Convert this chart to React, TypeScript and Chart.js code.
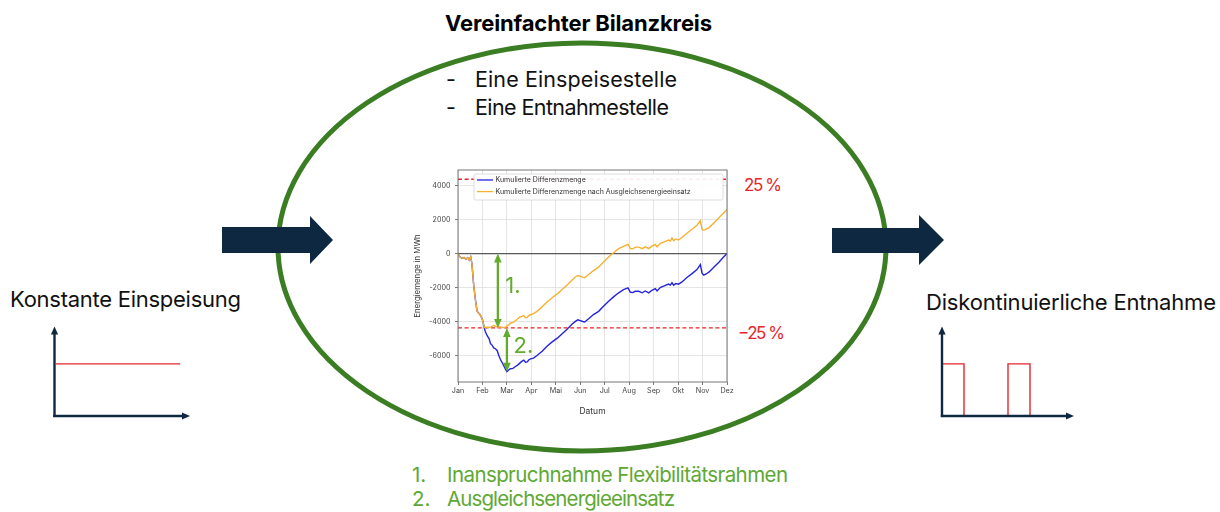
import React, { useEffect, useRef } from 'react';
import { Chart, registerables } from 'chart.js';
Chart.register(...registerables);

// ---------- data ----------
const MONTHS = ['Jan', 'Feb', 'Mar', 'Apr', 'Mai', 'Jun', 'Jul', 'Aug', 'Sep', 'Okt', 'Nov', 'Dez'];
const Y_TICKS = [-6000, -4000, -2000, 0, 2000, 4000];
const Y_MIN = -7560;
const Y_MAX = 4920;
const LIMIT = 4375; // ±25 %
const SERIES_NAMES = ['Kumulierte Differenzmenge', 'Kumulierte Differenzmenge nach Ausgleichsenergieeinsatz'];

// x in months since 1 Jan (0 = Jan, 11 = Dez)
const COMMON_X = [0, 0.08, 0.17, 0.25, 0.32, 0.4, 0.46, 0.52, 0.57, 0.64, 0.71, 0.78, 0.83, 0.88, 0.94, 1.0, 1.05];
const COMMON_Y = [-30, -200, -280, -230, -330, -250, -380, -200, -600, -1820, -2700, -3390, -3480, -3550, -3690, -3900, -4200];

const BLUE_X = [...COMMON_X,
  1.08, 1.12, 1.2, 1.27, 1.33, 1.4, 1.46, 1.53, 1.6, 1.67, 1.74, 1.8, 1.87, 1.94, 2.0,
  2.07, 2.14, 2.25, 2.35, 2.45, 2.55, 2.62, 2.69, 2.76, 2.83, 2.9, 2.97, 3.09, 3.23, 3.44,
  3.64, 3.85, 4.06, 4.26, 4.46, 4.67, 4.8, 4.9, 5.0, 5.1, 5.18, 5.34, 5.54, 5.75, 5.95,
  6.16, 6.36, 6.57, 6.77, 6.95, 7.05, 7.15, 7.25, 7.39, 7.53, 7.66, 7.8, 7.93, 8.07, 8.14,
  8.27, 8.41, 8.61, 8.68, 8.75, 8.82, 8.91, 9.02, 9.16, 9.36, 9.57, 9.77, 9.91, 9.98, 10.05,
  10.15, 10.27, 10.48, 10.68, 10.84, 11.0];
const BLUE_Y = [...COMMON_Y,
  -4420, -4600, -4850, -5000, -5300, -5400, -5550, -5600, -5700, -6000, -6250, -6400, -6600, -6800, -6950,
  -6850, -6780, -6760, -6650, -6550, -6420, -6330, -6270, -6400, -6380, -6250, -6200, -6150, -6000, -5750,
  -5450, -5200, -4980, -4720, -4450, -4150, -3990, -3900, -3950, -4000, -4030, -3840, -3590, -3400, -3100,
  -2800, -2550, -2310, -2120, -2020, -2280, -2300, -2220, -2220, -2310, -2200, -2310, -2160, -2060, -2200,
  -2000, -1920, -1800, -1860, -1720, -1860, -1760, -1800, -1670, -1410, -1180, -940, -650, -1150, -1270,
  -1200, -1080, -780, -490, -235, 0];

const ORANGE_X = [...COMMON_X,
  1.08, 1.15, 1.25, 1.35, 1.46, 1.55, 1.66, 1.76, 1.86, 1.95, 2.0, 2.07, 2.14, 2.27, 2.41,
  2.55, 2.62, 2.69, 2.76, 2.83, 2.9, 2.97, 3.09, 3.23, 3.44, 3.64, 3.85, 4.06, 4.26, 4.46,
  4.67, 4.8, 4.9, 5.0, 5.1, 5.18, 5.34, 5.54, 5.75, 5.95, 6.16, 6.36, 6.57, 6.77, 6.95,
  7.05, 7.15, 7.25, 7.39, 7.53, 7.66, 7.8, 7.93, 8.07, 8.14, 8.27, 8.41, 8.61, 8.68, 8.75,
  8.82, 8.91, 9.02, 9.16, 9.36, 9.57, 9.77, 9.91, 9.98, 10.05, 10.15, 10.27, 10.48, 10.68, 10.84, 11.0];
const ORANGE_Y = [...COMMON_Y,
  -4350, -4330, -4350, -4320, -4230, -4290, -4310, -4330, -4350, -4330, -4270, -4200, -4100, -4030, -3880,
  -3720, -3700, -3650, -3780, -3760, -3640, -3600, -3530, -3400, -3130, -2850, -2600, -2370, -2120, -1850,
  -1550, -1380, -1290, -1340, -1390, -1420, -1230, -1000, -800, -500, -200, 50, 290, 430, 560,
  300, 280, 380, 380, 290, 400, 290, 440, 540, 400, 600, 680, 800, 740, 920,
  760, 860, 800, 950, 1200, 1430, 1660, 1930, 1420, 1370, 1440, 1530, 1830, 2120, 2360, 2600];

// annotations (arrow x-position in months, label anchor)
const ANNOT_ARROW_X = [1.63, 2.0];
const ANNOT_LABELS = ['1.', '2.'];
const ANNOT_LABEL_X = [1.93, 2.27];
const ANNOT_LABEL_Y = [-2350, -5880];

// mini charts
const CONST_X = [0, 9];
const CONST_Y = [1, 1];
const PULSE_X = [0, 0, 1, 1, 3, 3, 4, 4];
const PULSE_Y = [0, 1, 1, 0, 0, 1, 1, 0];

// ---------- styles ----------
const FONT = 'Inter, "Open Sans", sans-serif';
const BLUE = '#2424e0';
const ORANGE = '#f6b133';
const RED = '#e5262a';
const GREEN_ARROW = '#62ab2b';
const NAVY = '#0e2841';

function MainChart() {
  const ref = useRef<HTMLCanvasElement>(null);
  useEffect(() => {
    const pts = (xs: number[], ys: number[]) => xs.map((x, i) => ({ x, y: ys[i] }));
    const xMax = MONTHS.length - 1;

    const framePlugin = {
      id: 'frame',
      afterDatasetsDraw(chart: any) {
        const { ctx, chartArea: a } = chart;
        ctx.save();
        ctx.strokeStyle = '#777';
        ctx.lineWidth = 1;
        ctx.strokeRect(a.left, a.top, a.right - a.left, a.bottom - a.top);
        ctx.restore();
      },
    };

    const annotPlugin = {
      id: 'annot',
      afterDatasetsDraw(chart: any) {
        const { ctx } = chart;
        const xs = chart.scales.x;
        const ys = chart.scales.y;
        const blueMin = Math.min(...BLUE_Y);
        const spans = [[0, -LIMIT], [-LIMIT, blueMin]];
        ctx.save();
        ctx.strokeStyle = GREEN_ARROW;
        ctx.fillStyle = GREEN_ARROW;
        ctx.lineWidth = 2.3;
        spans.forEach((s, i) => {
          const x = xs.getPixelForValue(ANNOT_ARROW_X[i]);
          const y0 = ys.getPixelForValue(s[0]);
          const y1 = ys.getPixelForValue(s[1]);
          const hl = 9, hw = 3.8;
          ctx.beginPath();
          ctx.moveTo(x, y0 + hl - 1);
          ctx.lineTo(x, y1 - hl + 1);
          ctx.stroke();
          ctx.beginPath();
          ctx.moveTo(x, y0); ctx.lineTo(x - hw, y0 + hl); ctx.lineTo(x + hw, y0 + hl); ctx.closePath(); ctx.fill();
          ctx.beginPath();
          ctx.moveTo(x, y1); ctx.lineTo(x - hw, y1 - hl); ctx.lineTo(x + hw, y1 - hl); ctx.closePath(); ctx.fill();
          ctx.font = `22px ${FONT}`;
          ctx.textAlign = 'left';
          ctx.textBaseline = 'alphabetic';
          ctx.fillText(ANNOT_LABELS[i], xs.getPixelForValue(ANNOT_LABEL_X[i]), ys.getPixelForValue(ANNOT_LABEL_Y[i]));
        });
        ctx.restore();
      },
    };

    const legendPlugin = {
      id: 'customLegend',
      afterDraw(chart: any) {
        const { ctx, chartArea: a } = chart;
        const bx = a.left + 16, by = a.top + 4, bw = 249, bh = 26;
        ctx.save();
        ctx.fillStyle = 'rgba(255,255,255,0.92)';
        ctx.strokeStyle = '#d4d4d4';
        ctx.lineWidth = 0.8;
        ctx.beginPath();
        (ctx as any).roundRect(bx, by, bw, bh, 2);
        ctx.fill();
        ctx.stroke();
        const colors = [BLUE, ORANGE];
        ctx.font = `7px ${FONT}`;
        ctx.textBaseline = 'middle';
        ctx.textAlign = 'left';
        SERIES_NAMES.forEach((name, i) => {
          const y = by + 6 + i * 11.6;
          ctx.strokeStyle = colors[i];
          ctx.lineWidth = 1.3;
          ctx.beginPath();
          ctx.moveTo(bx + 3, y);
          ctx.lineTo(bx + 19, y);
          ctx.stroke();
          ctx.fillStyle = '#333';
          ctx.fillText(name, bx + 21.5, y);
        });
        ctx.restore();
      },
    };

    const chart = new Chart(ref.current!, {
      type: 'line',
      data: {
        datasets: [
          { label: SERIES_NAMES[1], data: pts(ORANGE_X, ORANGE_Y), borderColor: ORANGE, borderWidth: 1.4, pointRadius: 0, order: 0 },
          { label: SERIES_NAMES[0], data: pts(BLUE_X, BLUE_Y), borderColor: BLUE, borderWidth: 1.4, pointRadius: 0, order: 1 },
          { label: '+25 %', data: pts([0, xMax], [LIMIT, LIMIT]), borderColor: RED, borderWidth: 1.3, borderDash: [4, 2.6], pointRadius: 0, order: 3 },
          { label: '-25 %', data: pts([0, xMax], [-LIMIT, -LIMIT]), borderColor: RED, borderWidth: 1.3, borderDash: [4, 2.6], pointRadius: 0, order: 3 },
          { label: '0', data: pts([0, xMax], [0, 0]), borderColor: '#5a5a5a', borderWidth: 1.3, pointRadius: 0, order: 4 },
        ] as any,
      },
      options: {
        animation: false,
        responsive: false,
        devicePixelRatio: 1,
        layout: { padding: { left: 0, top: 10, right: 13, bottom: 0 } },
        plugins: { legend: { display: false }, tooltip: { enabled: false } },
        scales: {
          x: {
            type: 'linear',
            min: 0,
            max: xMax,
            afterFit: (s: any) => { s.height = 43; },
            ticks: {
              stepSize: 1,
              autoSkip: false,
              maxRotation: 0,
              padding: 2,
              color: '#444',
              font: { family: FONT, size: 7.2 },
              callback: (v: any) => MONTHS[Math.round(v)] ?? '',
            },
            grid: { color: '#dedede', lineWidth: 0.8, tickLength: 3, tickColor: '#555' },
            border: { display: false },
            title: { display: true, text: 'Datum', color: '#333', font: { family: FONT, size: 8.5 }, padding: { top: 2, bottom: 8 } },
          },
          y: {
            type: 'linear',
            min: Y_MIN,
            max: Y_MAX,
            afterFit: (s: any) => { s.width = 58; },
            afterBuildTicks: (s: any) => { s.ticks = Y_TICKS.map((v) => ({ value: v })); },
            ticks: { padding: 4.5, color: '#444', font: { family: FONT, size: 7.2 }, callback: (v: any) => String(v) },
            grid: { color: '#dedede', lineWidth: 0.8, tickLength: 3, tickColor: '#555' },
            border: { display: false },
            title: { display: true, text: 'Energiemenge in MWh', color: '#333', font: { family: FONT, size: 7.8 }, padding: { top: 13, bottom: 0 } },
          },
        },
      } as any,
      plugins: [framePlugin, annotPlugin, legendPlugin],
    });
    return () => chart.destroy();
  }, []);
  return <canvas ref={ref} width={340} height={265} style={{ position: 'absolute', left: 400, top: 160 }} />;
}

function MiniChart(props: { xs: number[]; ys: number[]; xMax: number; left: number; top: number; width: number; height: number }) {
  const ref = useRef<HTMLCanvasElement>(null);
  useEffect(() => {
    const chart = new Chart(ref.current!, {
      type: 'line',
      data: {
        datasets: [{
          data: props.xs.map((x, i) => ({ x, y: props.ys[i] })),
          borderColor: RED, borderWidth: 1.4, pointRadius: 0, clip: false as any,
        }],
      },
      options: {
        animation: false,
        responsive: false,
        devicePixelRatio: 1,
        layout: { padding: 0 },
        plugins: { legend: { display: false }, tooltip: { enabled: false } },
        scales: {
          x: { type: 'linear', min: 0, max: props.xMax, display: false },
          y: { type: 'linear', min: 0, max: 1.65, display: false },
        },
      } as any,
    });
    return () => chart.destroy();
  }, []);
  return <canvas ref={ref} width={props.width} height={props.height} style={{ position: 'absolute', left: props.left, top: props.top }} />;
}

function AxisArrows({ x0, y0, yTip, xTip }: { x0: number; y0: number; yTip: number; xTip: number }) {
  return (
    <g>
      <line x1={x0} y1={y0 + 1} x2={x0} y2={yTip + 6} stroke={NAVY} strokeWidth={2.4} />
      <polygon points={`${x0},${yTip} ${x0 - 3.6},${yTip + 8} ${x0 + 3.6},${yTip + 8}`} fill={NAVY} />
      <line x1={x0 - 1.2} y1={y0} x2={xTip - 6} y2={y0} stroke={NAVY} strokeWidth={2.4} />
      <polygon points={`${xTip},${y0} ${xTip - 8},${y0 - 3.6} ${xTip - 8},${y0 + 3.6}`} fill={NAVY} />
    </g>
  );
}

export default function App() {
  const textStyle = { fontFamily: FONT };
  return (
    <div style={{ position: 'absolute', left: 0, top: 0, width: 1220, height: 512, background: '#fff', overflow: 'hidden' }}>
      <svg width={1220} height={512} style={{ position: 'absolute', left: 0, top: 0 }}>
        <ellipse cx={582} cy={247} rx={304} ry={204} fill="none" stroke="#3b7d23" strokeWidth={5} />
        <polygon points="222,227 310,227 310,216 333,240 310,264 310,253 222,253" fill={NAVY} />
        <polygon points="832,228 919,228 919,215 944,240 919,265 919,253 832,253" fill={NAVY} />
        <g style={textStyle}>
          <text x={445} y={31} fontSize={22} fontWeight={700} fill="#000" textLength={267} lengthAdjust="spacing">Vereinfachter Bilanzkreis</text>
          <text x={446} y={87} fontSize={21.5} fill="#111">-</text>
          <text x={475} y={87} fontSize={21.5} fill="#111" textLength={202} lengthAdjust="spacing">Eine Einspeisestelle</text>
          <text x={446} y={115} fontSize={21.5} fill="#111">-</text>
          <text x={475} y={115} fontSize={21.5} fill="#111" textLength={194} lengthAdjust="spacing">Eine Entnahmestelle</text>
          <text x={10} y={307} fontSize={22} fill="#111" textLength={231} lengthAdjust="spacing">Konstante Einspeisung</text>
          <text x={926} y={310} fontSize={22} fill="#111" textLength={290} lengthAdjust="spacing">Diskontinuierliche Entnahme</text>
          <text x={744} y={191} fontSize={17} fill={RED} textLength={38} lengthAdjust="spacing">25 %</text>
          <text x={738} y={338.5} fontSize={17} fill={RED} textLength={47} lengthAdjust="spacing">−25 %</text>
          <text x={412} y={482} fontSize={20.5} fill="#5ea833">1.</text>
          <text x={447} y={482} fontSize={20.5} fill="#5ea833" textLength={341} lengthAdjust="spacing">Inanspruchnahme Flexibilitätsrahmen</text>
          <text x={412} y={506} fontSize={20.5} fill="#5ea833">2.</text>
          <text x={447} y={506} fontSize={20.5} fill="#5ea833" textLength={228} lengthAdjust="spacing">Ausgleichsenergieeinsatz</text>
        </g>
      </svg>
      <MainChart />
      <MiniChart xs={CONST_X} ys={CONST_Y} xMax={10} left={56} top={330} width={138} height={86} />
      <MiniChart xs={PULSE_X} ys={PULSE_Y} xMax={6} left={942} top={330} width={132} height={86} />
      <svg width={1220} height={512} style={{ position: 'absolute', left: 0, top: 0, pointerEvents: 'none' }}>
        <AxisArrows x0={54.5} y0={416} yTip={326.5} xTip={190} />
        <AxisArrows x0={942} y0={416} yTip={326.5} xTip={1074} />
      </svg>
    </div>
  );
}
